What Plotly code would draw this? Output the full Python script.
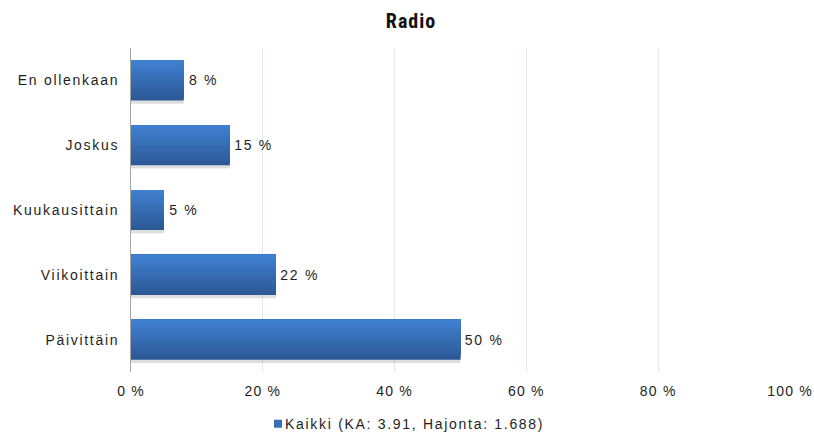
import plotly.graph_objects as go

# Survey answers: how often the respondent listens to the radio
categories = ["En ollenkaan", "Joskus", "Kuukausittain", "Viikoittain", "Päivittäin"]
values = [8, 15, 5, 22, 50]
series_name = "Kaikki (KA: 3.91, Hajonta: 1.688)"
x_ticks = [0, 20, 40, 60, 80, 100]

BAR_W = 0.62          # bar thickness in category units
N_LAYERS = 18         # layers used to fake a vertical gradient
TOP_RGB = (64, 128, 208)
BOTTOM_RGB = (44, 89, 150)
LEGEND_RGB = "rgb(58,112,186)"

FONT = "Liberation Sans, Arial, sans-serif"
TXT = "#1e1e1e"

fig = go.Figure()

# soft drop shadow slightly below each bar
fig.add_trace(go.Bar(
    y=categories, x=values, orientation="h",
    width=BAR_W, offset=-BAR_W / 2 + 0.05,
    marker=dict(color="rgba(0,0,0,0.13)", line=dict(width=0)),
    showlegend=False, hoverinfo="skip",
))

# gradient: stacked layers anchored at the top edge, lighter as they shrink
for k in range(N_LAYERS):
    t = k / (N_LAYERS - 1)
    r, g, b = (round(BOTTOM_RGB[i] + (TOP_RGB[i] - BOTTOM_RGB[i]) * t) for i in range(3))
    h = BAR_W * (1 - k / N_LAYERS)
    base = k == 0
    fig.add_trace(go.Bar(
        y=categories, x=values, orientation="h",
        width=h, offset=-BAR_W / 2,
        marker=dict(color=f"rgb({r},{g},{b})", line=dict(width=0)),
        showlegend=False,
        text=[f"\u00a0{v} %" for v in values] if base else None,
        textposition="outside" if base else "none",
        textfont=dict(family=FONT, size=14, color=TXT),
        cliponaxis=False,
        hoverinfo="skip",
    ))

# legend entry with a small square swatch
fig.add_trace(go.Scatter(
    x=[None], y=[None], mode="markers", name=series_name,
    marker=dict(symbol="square", size=8, color=LEGEND_RGB),
))

fig.update_layout(
    width=814, height=435,
    barmode="overlay",
    paper_bgcolor="white", plot_bgcolor="white",
    margin=dict(l=131, r=24, t=48, b=63),
    title=dict(text="<b>Radio</b>", x=0.505, xanchor="center", y=0.952, yanchor="middle",
               font=dict(family="Liberation Sans Narrow, Roboto Condensed, Arial", size=20, color="#111111")),
    font=dict(family=FONT, size=14, color=TXT),
    legend=dict(orientation="h", xref="container", yref="container",
                x=258 / 814, xanchor="left", y=0.025, yanchor="middle",
                font=dict(family=FONT, size=14, color=TXT),
                itemwidth=30, entrywidth=330),
    showlegend=True,
)

fig.update_xaxes(
    range=[0, 100], tickvals=x_ticks, ticktext=[f"{v} %" for v in x_ticks],
    showgrid=True, gridcolor="#E3E7F1", gridwidth=1,
    zeroline=False, showline=False, ticks="", automargin=False,
    ticklabelstandoff=9,
    tickfont=dict(family=FONT, size=14, color=TXT),
)
fig.update_yaxes(
    categoryorder="array", categoryarray=categories, autorange="reversed",
    showline=True, linecolor="#A6A6A6", linewidth=1,
    showgrid=False, zeroline=False, ticks="", automargin=False,
    ticklabelstandoff=8,
    tickfont=dict(family=FONT, size=14, color=TXT),
)

# wider character spacing for the chart texts
style_js = """
var s = document.createElement('style');
s.textContent = '.js-plotly-plot .ytick text, .js-plotly-plot .legendtext, .js-plotly-plot .bartext {letter-spacing:1.7px}' +
  '.js-plotly-plot .xtick text {letter-spacing:1.2px}' +
  '.js-plotly-plot .gtitle {letter-spacing:1px}' +
  '.js-plotly-plot .legendtext {transform: translate(-13px,0)}';
document.head.appendChild(s);
"""

fig.write_html("out.html", post_script=style_js)
